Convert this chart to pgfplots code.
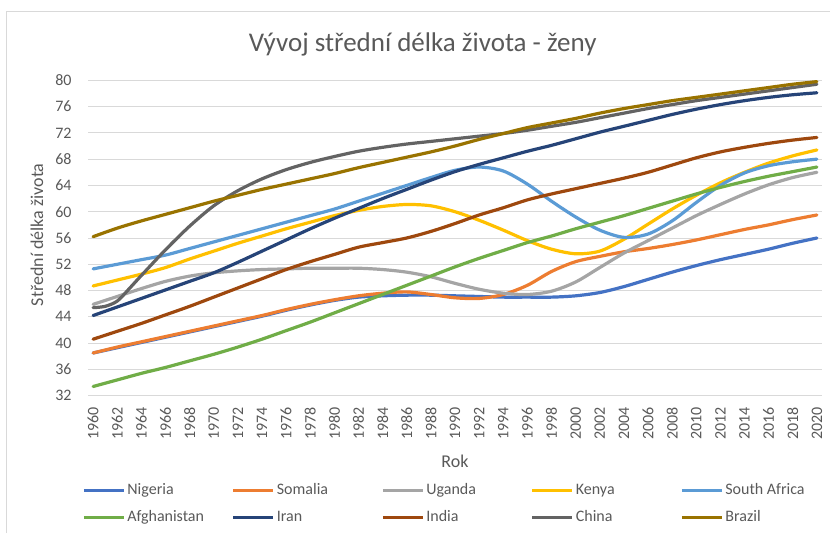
\documentclass[border=0pt]{standalone}
\usepackage{pgfplots}
\pgfplotsset{compat=1.18}
\usepackage{fontspec}
\setmainfont{Carlito}
\definecolor{cNig}{HTML}{4472C4}
\definecolor{cSom}{HTML}{ED7D31}
\definecolor{cUga}{HTML}{A5A5A5}
\definecolor{cKen}{HTML}{FFC000}
\definecolor{cSA}{HTML}{5B9BD5}
\definecolor{cAfg}{HTML}{70AD47}
\definecolor{cIra}{HTML}{264478}
\definecolor{cInd}{HTML}{9E480E}
\definecolor{cChi}{HTML}{636363}
\definecolor{cBra}{HTML}{997300}
\definecolor{gridc}{HTML}{D9D9D9}
\definecolor{textc}{HTML}{595959}
\begin{document}
\begin{tikzpicture}[x=1pt,y=1pt]
\useasboundingbox (0,0) rectangle (830,533);
\draw[color=gridc, line width=1pt] (6,0) -- (6,521) -- (830,521);
\begin{axis}[
  at={(88.3pt,137.3pt)}, anchor=south west,
  scale only axis, width=733.4pt, height=315.4pt,
  xmin=1959.6, xmax=2020.4, ymin=32, ymax=80,
  ytick={32,36,...,80}, xtick={1960,1962,...,2020},
  /pgf/number format/assume math mode=true,
  /pgf/number format/1000 sep={},
  ymajorgrids, grid style={color=gridc, line width=1pt},
  axis line style={draw=none}, major tick length=0pt,
  clip=false,
  yticklabel style={font=\fontsize{16}{19}\selectfont, text=textc, anchor=east, inner sep=0pt, xshift=-16.5pt},
  xticklabel style={font=\fontsize{16}{19}\selectfont, text=textc, yshift=-11pt, rotate=90, anchor=east, inner sep=0pt},
  title={Vývoj střední délka života - ženy},
  title style={at={(axis description cs:0.456,1.095)}, anchor=center, font=\fontsize{27}{32}\selectfont, text=textc},
  xlabel={Rok}, ylabel={Střední délka života},
  every axis x label/.style={at={(axis description cs:0.5,-0.207)}, anchor=center, font=\fontsize{18}{21}\selectfont, text=textc},
  every axis y label/.style={at={(axis description cs:-0.070,0.51)}, rotate=90, anchor=center, font=\fontsize{18}{21}\selectfont, text=textc},
  every axis plot/.append style={line width=3.2pt, line cap=round, line join=round, smooth},
  legend columns=5, legend cell align=left,
  legend image code/.code={\draw[#1, line cap=butt] (0pt,0pt) -- (40pt,0pt);},
  legend style={at={(axis description cs:-0.0086,-0.277)}, anchor=north west, draw=none, fill=none,
    inner sep=0pt, font=\fontsize{16}{19}\selectfont, text=textc,
    column sep=0pt, row sep=13pt,
    nodes={inner sep=0pt, text height=11pt, text depth=3pt},
    /tikz/every odd column/.append style={column sep=2pt}},
]
\addplot[color=cNig] coordinates {(1960,38.5)(1962,39.3)(1964,40.1)(1966,40.9)(1968,41.7)(1970,42.5)(1972,43.3)(1974,44.1)(1976,45.0)(1978,45.8)(1980,46.5)(1982,47.0)(1984,47.2)(1986,47.3)(1988,47.3)(1990,47.2)(1992,47.1)(1994,47.0)(1996,47.0)(1998,47.0)(2000,47.2)(2002,47.7)(2004,48.6)(2006,49.7)(2008,50.8)(2010,51.8)(2012,52.7)(2014,53.5)(2016,54.3)(2018,55.2)(2020,56.0)};
\addlegendentry{\makebox[104.3pt][l]{Nigeria}}
\addplot[color=cSom] coordinates {(1960,38.5)(1962,39.4)(1964,40.2)(1966,41.0)(1968,41.8)(1970,42.6)(1972,43.4)(1974,44.2)(1976,45.1)(1978,45.9)(1980,46.6)(1982,47.2)(1984,47.6)(1986,47.8)(1988,47.4)(1990,46.9)(1992,46.8)(1994,47.4)(1996,48.8)(1998,50.9)(2000,52.4)(2002,53.2)(2004,53.9)(2006,54.4)(2008,55.0)(2010,55.7)(2012,56.5)(2014,57.3)(2016,58.0)(2018,58.8)(2020,59.5)};
\addlegendentry{\makebox[104.3pt][l]{Somalia}}
\addplot[color=cUga] coordinates {(1960,45.9)(1962,47.1)(1964,48.3)(1966,49.4)(1968,50.2)(1970,50.7)(1972,51.0)(1974,51.2)(1976,51.3)(1978,51.4)(1980,51.4)(1982,51.4)(1984,51.2)(1986,50.8)(1988,50.1)(1990,49.1)(1992,48.2)(1994,47.6)(1996,47.4)(1998,47.9)(2000,49.3)(2002,51.5)(2004,53.7)(2006,55.6)(2008,57.5)(2010,59.4)(2012,61.1)(2014,62.7)(2016,64.1)(2018,65.2)(2020,66.0)};
\addlegendentry{\makebox[104.3pt][l]{Uganda}}
\addplot[color=cKen] coordinates {(1960,48.7)(1962,49.6)(1964,50.5)(1966,51.5)(1968,52.8)(1970,54.0)(1972,55.2)(1974,56.3)(1976,57.4)(1978,58.4)(1980,59.4)(1982,60.2)(1984,60.8)(1986,61.1)(1988,60.9)(1990,60.0)(1992,58.7)(1994,57.2)(1996,55.6)(1998,54.3)(2000,53.6)(2002,54.0)(2004,55.8)(2006,58.1)(2008,60.4)(2010,62.5)(2012,64.4)(2014,66.0)(2016,67.4)(2018,68.5)(2020,69.4)};
\addlegendentry{\makebox[104.3pt][l]{Kenya}}
\addplot[color=cSA] coordinates {(1960,51.3)(1962,52.0)(1964,52.7)(1966,53.4)(1968,54.4)(1970,55.4)(1972,56.4)(1974,57.4)(1976,58.4)(1978,59.4)(1980,60.4)(1982,61.6)(1984,62.8)(1986,64.0)(1988,65.2)(1990,66.3)(1992,66.8)(1994,66.2)(1996,64.2)(1998,61.6)(2000,59.2)(2002,57.2)(2004,56.1)(2006,56.6)(2008,58.6)(2010,61.4)(2012,64.0)(2014,65.9)(2016,67.0)(2018,67.6)(2020,68.0)};
\addlegendentry{\makebox[90pt][l]{South Africa}}
\addplot[color=cAfg] coordinates {(1960,33.4)(1962,34.4)(1964,35.4)(1966,36.3)(1968,37.3)(1970,38.3)(1972,39.4)(1974,40.6)(1976,41.9)(1978,43.2)(1980,44.6)(1982,46.0)(1984,47.4)(1986,48.8)(1988,50.2)(1990,51.6)(1992,52.9)(1994,54.1)(1996,55.3)(1998,56.3)(2000,57.4)(2002,58.4)(2004,59.4)(2006,60.5)(2008,61.6)(2010,62.7)(2012,63.7)(2014,64.6)(2016,65.4)(2018,66.1)(2020,66.8)};
\addlegendentry{\makebox[104.3pt][l]{Afghanistan}}
\addplot[color=cIra] coordinates {(1960,44.2)(1962,45.5)(1964,46.8)(1966,48.1)(1968,49.4)(1970,50.7)(1972,52.3)(1974,54.0)(1976,55.7)(1978,57.4)(1980,59.0)(1982,60.5)(1984,62.0)(1986,63.4)(1988,64.8)(1990,66.1)(1992,67.2)(1994,68.2)(1996,69.2)(1998,70.1)(2000,71.1)(2002,72.1)(2004,73.0)(2006,73.9)(2008,74.8)(2010,75.6)(2012,76.3)(2014,76.9)(2016,77.4)(2018,77.8)(2020,78.1)};
\addlegendentry{\makebox[104.3pt][l]{Iran}}
\addplot[color=cInd] coordinates {(1960,40.6)(1962,41.8)(1964,43.0)(1966,44.3)(1968,45.6)(1970,47.0)(1972,48.4)(1974,49.8)(1976,51.2)(1978,52.4)(1980,53.5)(1982,54.6)(1984,55.3)(1986,56.0)(1988,57.0)(1990,58.2)(1992,59.5)(1994,60.6)(1996,61.8)(1998,62.7)(2000,63.5)(2002,64.3)(2004,65.1)(2006,66.0)(2008,67.1)(2010,68.2)(2012,69.1)(2014,69.8)(2016,70.4)(2018,70.9)(2020,71.3)};
\addlegendentry{\makebox[104.3pt][l]{India}}
\addplot[color=cChi] coordinates {(1960,45.4)(1961,45.6)(1962,46.4)(1963,48.3)(1964,50.3)(1966,54.2)(1968,57.8)(1970,60.9)(1972,63.2)(1974,65.0)(1976,66.4)(1978,67.5)(1980,68.4)(1982,69.2)(1984,69.8)(1986,70.3)(1988,70.7)(1990,71.1)(1992,71.5)(1994,71.9)(1996,72.4)(1998,73.0)(2000,73.6)(2002,74.3)(2004,75.0)(2006,75.7)(2008,76.3)(2010,76.9)(2012,77.4)(2014,77.9)(2016,78.4)(2018,78.9)(2020,79.4)};
\addlegendentry{\makebox[104.3pt][l]{China}}
\addplot[color=cBra] coordinates {(1960,56.2)(1962,57.5)(1964,58.6)(1966,59.6)(1968,60.6)(1970,61.6)(1972,62.5)(1974,63.4)(1976,64.2)(1978,65.0)(1980,65.8)(1982,66.7)(1984,67.5)(1986,68.3)(1988,69.1)(1990,70.0)(1992,71.0)(1994,71.9)(1996,72.8)(1998,73.5)(2000,74.2)(2002,75.0)(2004,75.7)(2006,76.3)(2008,76.9)(2010,77.4)(2012,77.9)(2014,78.4)(2016,78.9)(2018,79.4)(2020,79.8)};
\addlegendentry{\makebox[90pt][l]{Brazil}}
\end{axis}
\end{tikzpicture}
\end{document}
